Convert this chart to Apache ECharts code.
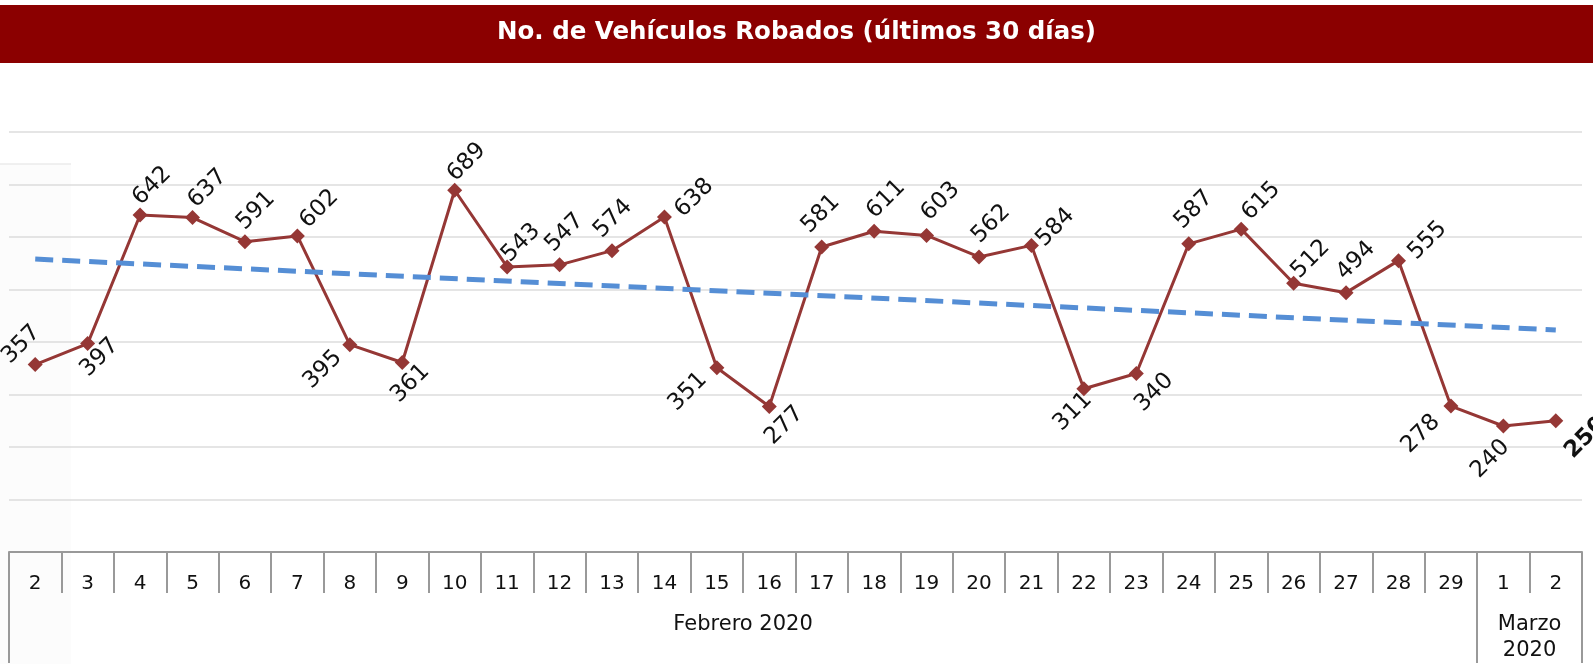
<!DOCTYPE html>
<html>
<head>
<meta charset="utf-8">
<script src="https://cdn.jsdelivr.net/npm/echarts@6/dist/echarts.min.js"></script>
<style>
  html, body { margin: 0; padding: 0; background: #fff; }
  #chart { width: 1593px; height: 664px; }
</style>
</head>
<body>
<div id="chart"></div>
<script>
// datos
var dias = ['2','3','4','5','6','7','8','9','10','11','12','13','14','15','16','17','18','19','20','21','22','23','24','25','26','27','28','29','1','2'];
var robados = [357,397,642,637,591,602,395,361,689,543,547,574,638,351,277,581,611,603,562,584,311,340,587,615,512,494,555,278,240,250];
var meses = ['Febrero 2020', 'Marzo\n2020'];
var diasPorMes = [28, 2];
// tendencia lineal (inicio y fin)
var tendencia = [558, 423];

// desplazamiento de cada etiqueta respecto al marcador (px)
var posEtiqueta = [
  [-14,-20],[12,14],[12,-29],[15,-29],[11,-31],[22,-27],[-27,25],[8,21],[12,-28],[14,-24],
  [5,-32],[1,-32],[30,-19],[-29,24],[15,19],[-1,-33],[12,-32],[14,-34],[12,-33],[24,-18],
  [-11,23],[18,19],[5,-34],[20,-28],[17,-24],[10,-32],[29,-20],[-30,28],[-13,33],[30,17]
];

var fuente = 'DejaVu Sans';
var chart = echarts.init(document.getElementById('chart'));

// limites de meses en el eje
var limites = [0];
diasPorMes.forEach(function (n) { limites.push(limites[limites.length - 1] + n); });
var centros = [];
for (var m = 0; m < meses.length; m++) centros.push((limites[m] + limites[m + 1]) / 2);

var datos = robados.map(function (v, i) {
  var item = { value: v };
  if (i === robados.length - 1) item.label = { fontWeight: 'bold' };
  return item;
});

var option = {
  animation: false,
  title: {
    text: 'No. de Vehículos Robados (últimos 30 días)',
    left: 'center',
    top: 20,
    padding: 0,
    textStyle: { color: '#fff', fontFamily: fuente, fontWeight: 'bold', fontSize: 24.5, lineHeight: 26 }
  },
  graphic: [
    { type: 'rect', z: -1, shape: { x: 0, y: 5, width: 1593, height: 58 }, style: { fill: '#8b0000' } },
    { type: 'rect', z: -2, shape: { x: 0, y: 164, width: 71, height: 500 }, style: { fill: '#fcfcfc' } },
    { type: 'line', z: -1, shape: { x1: 0, y1: 164, x2: 71, y2: 164 }, style: { stroke: '#ebebeb', lineWidth: 1.5 } }
  ],
  grid: { left: 9, right: 11, top: 132, bottom: 105, containLabel: false },
  xAxis: [
    {
      type: 'category',
      data: dias,
      boundaryGap: true,
      axisLine: { show: true, lineStyle: { color: '#999', width: 2 } },
      axisTick: { show: true, interval: 0, length: 41, lineStyle: { color: '#999', width: 2 } },
      axisLabel: { interval: 0, margin: 32, verticalAlign: 'middle', color: '#111', fontFamily: fuente, fontSize: 20 },
      splitLine: { show: false }
    },
    {
      type: 'value',
      min: 0,
      max: robados.length,
      position: 'bottom',
      offset: 41,
      axisLine: { show: false },
      splitLine: { show: false },
      axisTick: { show: true, customValues: limites, length: 70, lineStyle: { color: '#999', width: 2 } },
      axisLabel: {
        customValues: centros,
        margin: 19,
        color: '#111',
        fontFamily: fuente,
        fontSize: 21,
        lineHeight: 26,
        verticalAlign: 'top',
        formatter: function (v) {
          var k = centros.indexOf(v);
          return k >= 0 ? meses[k] : '';
        }
      }
    }
  ],
  yAxis: {
    type: 'value',
    min: 0,
    max: 800,
    interval: 100,
    axisLabel: { show: false },
    axisLine: { show: false },
    axisTick: { show: false },
    splitLine: { lineStyle: { color: '#dcdcdc', width: 1.5 } }
  },
  series: [
    {
      name: 'Robados',
      type: 'line',
      data: datos,
      z: 3,
      symbol: 'diamond',
      symbolSize: 15,
      itemStyle: { color: '#953735' },
      lineStyle: { color: '#953735', width: 3 },
      label: {
        show: true,
        color: '#111',
        fontFamily: fuente,
        fontSize: 23
      },
      labelLayout: function (p) {
        var o = posEtiqueta[p.dataIndex] || [0, -25];
        return {
          x: p.rect.x + p.rect.width / 2 + o[0],
          y: p.rect.y + p.rect.height / 2 + o[1],
          rotate: 45,
          align: 'center',
          verticalAlign: 'middle'
        };
      }
    },
    {
      name: 'Tendencia',
      type: 'line',
      z: 4,
      silent: true,
      symbol: 'none',
      data: [[0, tendencia[0]], [robados.length - 1, tendencia[1]]],
      lineStyle: { color: '#558ed5', width: 5, type: [18, 9], cap: 'butt' }
    }
  ]
};

chart.setOption(option);
</script>
</body>
</html>
